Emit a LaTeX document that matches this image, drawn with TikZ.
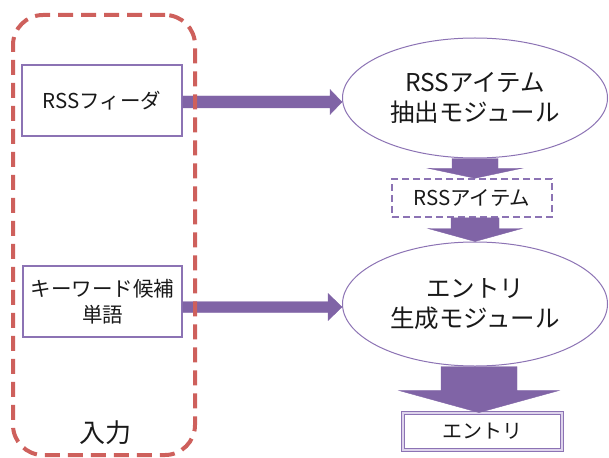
\documentclass[tikz,border=0pt]{standalone}
\usepackage{fontspec}
\setmainfont{Noto Sans CJK JP}
\usetikzlibrary{shapes.geometric,calc}
\definecolor{pline}{RGB}{140,115,180}
\definecolor{pfill}{RGB}{128,100,166}
\definecolor{rframe}{RGB}{206,96,92}
\definecolor{txt}{RGB}{25,25,25}
\definecolor{dfill}{RGB}{222,212,236}
\newcommand{\harrow}[5]{%
  \fill[fatarrow] let \p1=(#1), \p2=(#2) in
    (\x1,\y1+#3pt) -- (\x2-#5pt,\y1+#3pt) -- (\x2-#5pt,\y1+#4pt) -- (\x2,\y1)
    -- (\x2-#5pt,\y1-#4pt) -- (\x2-#5pt,\y1-#3pt) -- (\x1,\y1-#3pt) -- cycle;}
\newcommand{\varrow}[5]{%
  \fill[fatarrow] let \p1=(#1), \p2=(#2) in
    (\x1-#3pt,\y1) -- (\x1-#3pt,\y2+#5pt) -- (\x1-#4pt,\y2+#5pt) -- (\x1,\y2)
    -- (\x1+#4pt,\y2+#5pt) -- (\x1+#3pt,\y2+#5pt) -- (\x1+#3pt,\y1) -- cycle;}
\begin{document}
\begin{tikzpicture}[x=1pt,y=-1pt,
  every node/.style={text=txt},
  inbox/.style={draw=pline,line width=1.5pt,fill=white,inner sep=0pt,align=center,
    font=\fontsize{20.5}{26}\selectfont},
  modell/.style={ellipse,draw=pline,line width=1pt,fill=white,inner sep=0pt,align=center,
    minimum width=265pt,font=\fontsize{24.5}{30}\selectfont},
  itembox/.style={draw=pline,line width=1.5pt,dash pattern=on 7pt off 4pt,fill=white,
    inner sep=0pt,minimum width=160pt,minimum height=38pt,font=\fontsize{20.5}{24}\selectfont},
  outbox/.style={draw=pline,line width=0.9pt,double=dfill,double distance=1.6pt,fill=white,
    inner sep=0pt,minimum width=159pt,minimum height=37pt,font=\fontsize{20}{24}\selectfont},
  fatarrow/.style={fill=pfill,draw=pfill,line width=0.4pt},
  inframe/.style={draw=rframe,line width=4pt,dash pattern=on 15pt off 8pt,rounded corners=30pt,
    minimum width=182pt,minimum height=440pt,inner sep=0pt}
]
\useasboundingbox (0,0) rectangle (609,457);
\node[inbox,minimum width=160pt,minimum height=71pt] (feed) at (102,100.5) {RSSフィーダ};
\node[inbox,minimum width=159pt,minimum height=71pt] (kw) at (102.5,301.5) {キーワード候補\\単語};
\node[modell,minimum height=120pt] (ext) at (475,98) {RSSアイテム\\抽出モジュール};
\node[itembox] (item) at (472,198) {RSSアイテム};
\node[modell,minimum height=124pt] (gen) at (475,304) {エントリ\\生成モジュール};
\node[outbox] (entry) at (482.5,431.5) {エントリ};
\harrow{$(feed.east)+(0,1.5)$}{ext.west}{6}{12.5}{12}
\harrow{$(kw.east)+(0,5.5)$}{gen.west}{5.5}{13.5}{14}
\varrow{ext.south}{item.north}{23}{47}{10}
\varrow{$(item.south)+(3,0)$}{gen.north}{24}{47}{13}
\varrow{$(gen.south)+(4,0)$}{entry.north}{38}{80}{22}
\node[inframe] (input) at (104,235) {};
\node[font=\fontsize{26}{30}\selectfont] (inlabel) at (105,433) {入力};
\end{tikzpicture}
\end{document}
